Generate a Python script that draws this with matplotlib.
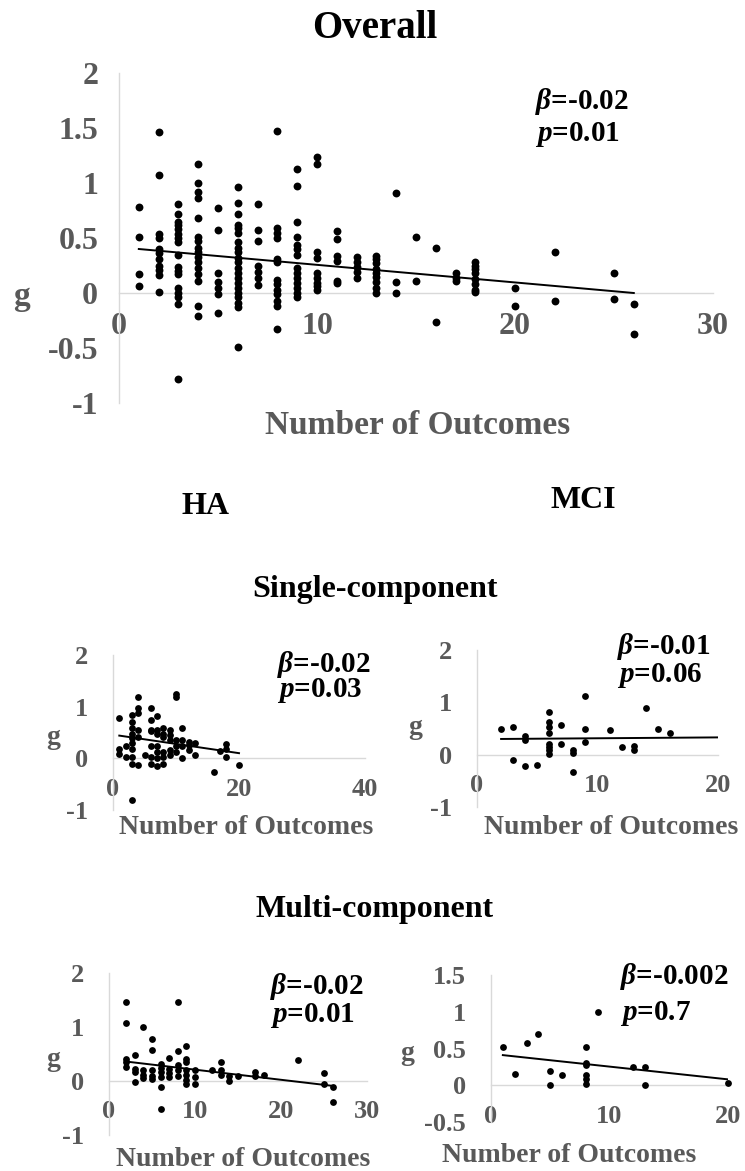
import matplotlib
matplotlib.use('Agg')
import matplotlib.pyplot as plt

plt.rcParams['font.family'] = ['Liberation Serif', 'DejaVu Serif']
plt.rcParams['font.weight'] = 'bold'
plt.rcParams['axes.unicode_minus'] = False
plt.rcParams['mathtext.fontset'] = 'custom'
plt.rcParams['mathtext.it'] = 'Liberation Serif:italic:bold'
plt.rcParams['mathtext.rm'] = 'Liberation Serif:bold'
plt.rcParams['mathtext.bf'] = 'Liberation Serif:bold'

# ---------------- data ----------------
overall_x = ([1]*4 + [2]*11 + [3]*17 + [4]*16 + [5]*7 + [6]*21 + [7]*7 + [8]*13 +
             [9]*14 + [10]*9 + [11]*6 + [12]*5 + [13]*9 + [14]*3 + [15]*2 + [16]*2 +
             [17]*3 + [18]*8 + [20]*2 + [22]*2 + [25]*2 + [26]*2)
overall_g = [0.78, 0.51, 0.17, 0.06,
             1.46, 1.07, 0.54, 0.50, 0.40, 0.36, 0.31, 0.25, 0.21, 0.16, 0.01,
             0.81, 0.72, 0.65, 0.62, 0.58, 0.54, 0.50, 0.46, 0.35, 0.24, 0.20, 0.17, 0.05, 0.00, -0.04, -0.10, -0.78,
             1.17, 1.00, 0.92, 0.86, 0.68, 0.51, 0.47, 0.41, 0.37, 0.33, 0.28, 0.23, 0.17, 0.11, -0.12, -0.21,
             0.77, 0.57, 0.18, 0.10, 0.05, -0.01, -0.18,
             0.96, 0.82, 0.72, 0.62, 0.59, 0.55, 0.46, 0.41, 0.37, 0.32, 0.28, 0.23, 0.18, 0.14, 0.09, 0.05, 0.00, -0.04, -0.09, -0.13, -0.49,
             0.81, 0.57, 0.47, 0.25, 0.19, 0.14, 0.07,
             1.47, 0.59, 0.55, 0.50, 0.31, 0.28, 0.12, 0.08, 0.03, -0.01, -0.07, -0.12, -0.33,
             1.13, 0.97, 0.65, 0.51, 0.44, 0.40, 0.35, 0.23, 0.18, 0.14, 0.09, 0.05, 0.00, -0.04,
             1.24, 1.17, 0.37, 0.32, 0.18, 0.14, 0.09, 0.06, 0.03,
             0.56, 0.49, 0.34, 0.29, 0.11, 0.09,
             0.33, 0.28, 0.24, 0.19, 0.14,
             0.34, 0.31, 0.27, 0.22, 0.18, 0.15, 0.10, 0.05, 0.00,
             0.91, 0.10, 0.00,
             0.51, 0.11,
             0.41, -0.26,
             0.18, 0.14, 0.11,
             0.28, 0.25, 0.22, 0.18, 0.13, 0.08, 0.03, 0.01,
             0.05, -0.12,
             0.37, -0.07,
             0.18, -0.05,
             -0.10, -0.37]
overall_trend_x = [1, 26]
overall_trend_g = [0.40, 0.00]

single_ha_x = ([1]*3 + [2]*2 + [3]*10 + [4]*6 + [5] + [6]*7 + [7]*7 + [8]*6 + [9]*5 +
               [10]*5 + [11]*4 + [12]*3 + [13]*2 + [16] + [17] + [18]*3 + [20])
single_ha_g = [0.79, 0.19, 0.08,
               0.23, 0.03,
               0.84, 0.71, 0.58, 0.48, 0.39, 0.29, 0.19, 0.03, -0.10, -0.81,
               1.18, 0.97, 0.87, 0.55, 0.42, -0.13,
               0.06,
               0.97, 0.74, 0.55, 0.52, 0.23, 0.03, -0.10,
               0.81, 0.55, 0.48, 0.23, 0.13, 0.00, -0.14,
               0.58, 0.48, 0.42, 0.13, 0.03, -0.10,
               0.55, 0.45, 0.35, 0.16, 0.06,
               1.24, 1.18, 0.35, 0.23, 0.13,
               0.58, 0.35, 0.23, 0.00,
               0.32, 0.26, 0.16,
               0.29, 0.06,
               -0.27,
               0.14,
               0.28, 0.19, 0.03,
               -0.13]
single_ha_trend_x = [1, 20]
single_ha_trend_g = [0.44, 0.10]

single_mci_x = ([2] + [3]*2 + [4]*3 + [5] + [6]*8 + [7]*2 + [8]*3 + [9]*3 + [11] + [12] +
                [13]*2 + [14] + [15] + [16])
single_mci_g = [0.50,
                0.53, -0.10,
                0.36, 0.28, -0.21,
                -0.19,
                0.82, 0.62, 0.53, 0.41, 0.20, 0.14, 0.09, 0.01,
                0.57, 0.20,
                0.09, 0.04, -0.34,
                1.13, 0.50, 0.24,
                0.48,
                0.14,
                0.17, 0.09,
                0.90,
                0.50,
                0.41]
single_mci_trend_x = [2, 20]
single_mci_trend_g = [0.30, 0.33]

multi_ha_x = ([2]*5 + [3]*4 + [4]*4 + [5]*5 + [6]*6 + [7]*4 + [8]*5 + [9]*7 + [10]*3 +
              [12] + [13]*3 + [14]*2 + [15] + [17]*2 + [18] + [22] + [25]*2 + [26]*2)
multi_ha_g = [1.46, 1.07, 0.41, 0.35, 0.26,
              0.48, 0.23, 0.17, -0.02,
              1.00, 0.20, 0.12, 0.06,
              0.77, 0.57, 0.20, 0.10, 0.04,
              0.32, 0.25, 0.17, 0.07, -0.12, -0.51,
              0.43, 0.23, 0.14, 0.07,
              1.46, 0.56, 0.29, 0.20, 0.10,
              0.65, 0.41, 0.35, 0.20, 0.12, 0.01, -0.06,
              0.20, 0.07, -0.06,
              0.20,
              0.35, 0.20, 0.12,
              0.09, 0.00,
              0.10,
              0.17, 0.09,
              0.12,
              0.38,
              0.15, -0.06,
              -0.11, -0.39]
multi_ha_trend_x = [2, 26]
multi_ha_trend_g = [0.36, -0.09]

multi_mci_x = [1, 2, 3, 4, 5, 5, 6, 8, 8, 8, 8, 8, 8, 9, 12, 13, 13, 20]
multi_mci_g = [0.52, 0.15, 0.57, 0.70, 0.20, 0.00, 0.14, 0.52, 0.30, 0.27, 0.14, 0.09,
               0.02, 1.00, 0.25, 0.25, 0.00, 0.03]
multi_mci_trend_x = [1, 20]
multi_mci_trend_g = [0.41, 0.08]

ticks_0_30 = [0, 10, 20, 30]
ticks_0_40 = [0, 20, 40]
ticks_0_20 = [0, 10, 20]
yt_overall = [2, 1.5, 1, 0.5, 0, -0.5, -1]
yt_overall_lbl = ['2', '1.5', '1', '0.5', '0', '-0.5', '-1']
yt_sub = [2, 1, 0, -1]
yt_sub_lbl = ['2', '1', '0', '-1']
yt_mm = [1.5, 1, 0.5, 0, -0.5]
yt_mm_lbl = ['1.5', '1', '0.5', '0', '-0.5']

stats_overall = ['-0.02', '0.01']
stats_single_ha = ['-0.02', '0.03']
stats_single_mci = ['-0.01', '0.06']
stats_multi_ha = ['-0.02', '0.01']
stats_multi_mci = ['-0.002', '0.7']

# ---------------- drawing ----------------
W, H = 745, 1171
GRAY = '#595959'
AXC = '#d9d9d9'
fig = plt.figure(figsize=(W / 100, H / 100), dpi=100)


def px(x, y):
    return x / W, 1 - y / H


def panel(l, t, r, b, x, g, tx, tg, xlim, xticks, ylim, yticks, ylbls,
          tick_fs, xpad, ypad, ms):
    ax = fig.add_axes([l / W, 1 - b / H, (r - l) / W, (b - t) / H])
    ax.scatter(x, g, s=ms, color='black', linewidths=0, zorder=3, clip_on=False)
    ax.plot(tx, tg, color='black', lw=1.4, zorder=4)
    ax.set_xlim(*xlim)
    ax.set_ylim(*ylim)
    for s in ('top', 'right'):
        ax.spines[s].set_visible(False)
    ax.spines['bottom'].set_position(('data', 0))
    ax.spines['bottom'].set_color(AXC)
    ax.spines['left'].set_color(AXC)
    ax.spines['bottom'].set_linewidth(1.0)
    ax.spines['left'].set_linewidth(1.0)
    ax.set_xticks(xticks)
    ax.set_xticklabels([str(v) for v in xticks])
    ax.set_yticks(yticks)
    ax.set_yticklabels(ylbls)
    ax.tick_params(axis='both', length=0, colors=GRAY, labelsize=tick_fs)
    ax.tick_params(axis='x', pad=xpad)
    ax.tick_params(axis='y', pad=ypad)
    for lab in ax.get_xticklabels() + ax.get_yticklabels():
        lab.set_fontweight('bold')
    ax.set_facecolor('none')
    return ax


def label(x, y, s, fs, color='black', ha='center', va='center', ls=1.2):
    fig.text(*px(x, y), s, fontsize=fs, color=color, ha=ha, va=va,
             fontweight='bold', linespacing=ls)


def stats(x, y_last_baseline, vals, fs, ls):
    s = r'$\beta$=' + vals[0] + '\n' + r'$p$=' + vals[1]
    label(x, y_last_baseline, s, fs, ha='left', va='baseline', ls=ls)


# Overall
panel(119, 73, 713, 403, overall_x, overall_g, overall_trend_x, overall_trend_g,
      (0, 30), ticks_0_30, (-1, 2), yt_overall, yt_overall_lbl, 23, 14, 15, 32)
label(375, 28, 'Overall', 28)
label(418, 425, 'Number of Outcomes', 24, GRAY)
label(22, 296, 'g', 24, GRAY)
stats(535, 141, stats_overall, 21, 1.15)

# section headers
label(205, 507, 'HA', 23)
label(583, 500, 'MCI', 23)
label(375, 590, 'Single-component', 23)
label(375, 910, 'Multi-component', 23)

# Single HA
panel(113, 655, 365, 810, single_ha_x, single_ha_g, single_ha_trend_x, single_ha_trend_g,
      (0, 40), ticks_0_40, (-1, 2), yt_sub, yt_sub_lbl, 19, 14, 18, 24)
label(246, 827, 'Number of Outcomes', 20, GRAY)
label(53, 738, 'g', 20, GRAY)
stats(277, 697, stats_single_ha, 21, 0.8)

# Single MCI
panel(477, 650, 718, 807, single_mci_x, single_mci_g, single_mci_trend_x, single_mci_trend_g,
      (0, 20), ticks_0_20, (-1, 2), yt_sub, yt_sub_lbl, 19, 14, 18, 24)
label(611, 827, 'Number of Outcomes', 20, GRAY)
label(415, 728, 'g', 20, GRAY)
stats(617, 682, stats_single_mci, 21, 0.95)

# Multi HA
panel(109, 973, 367, 1135, multi_ha_x, multi_ha_g, multi_ha_trend_x, multi_ha_trend_g,
      (0, 30), ticks_0_30, (-1, 2), yt_sub, yt_sub_lbl, 19, 14, 18, 24)
label(243, 1160, 'Number of Outcomes', 20, GRAY)
label(53, 1060, 'g', 20, GRAY)
stats(270, 1022, stats_multi_ha, 21, 0.95)

# Multi MCI
panel(491, 975, 728, 1122, multi_mci_x, multi_mci_g, multi_mci_trend_x, multi_mci_trend_g,
      (0, 20), ticks_0_20, (-0.5, 1.5), yt_mm, yt_mm_lbl, 19, 14, 18, 24)
label(569, 1155, 'Number of Outcomes', 20, GRAY)
label(407, 1053, 'g', 20, GRAY)
stats(620, 1020, stats_multi_mci, 21, 1.35)

fig.savefig('out.png', dpi=100, facecolor='white')
